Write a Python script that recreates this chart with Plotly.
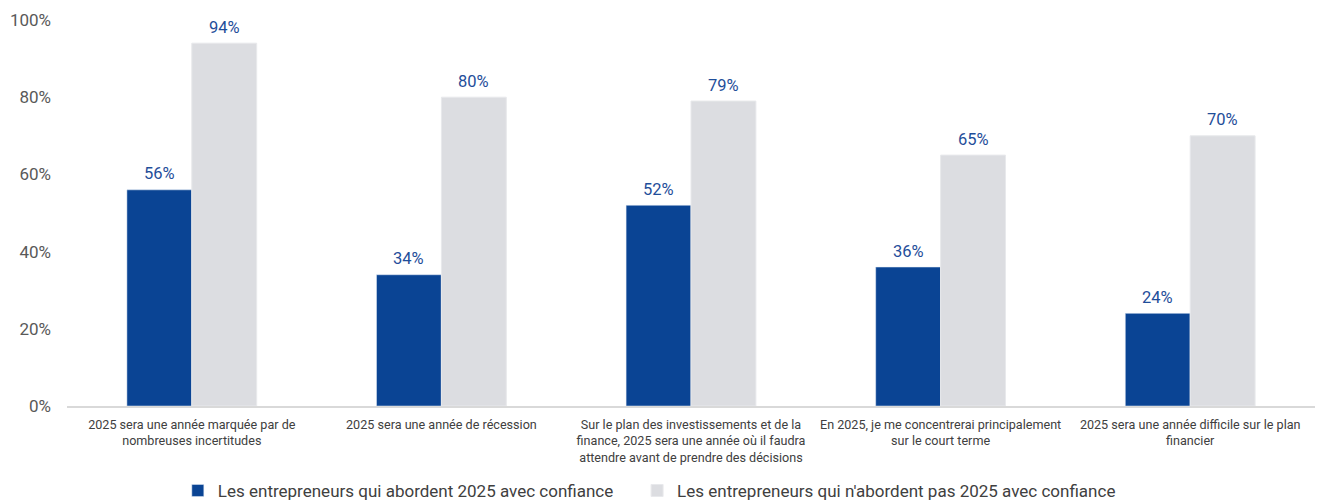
import plotly.graph_objects as go

categories = [
    "2025 sera une année marquée par de<br>nombreuses incertitudes",
    "2025 sera une année de récession",
    "Sur le plan des investissements et de la<br>finance, 2025 sera une année où il faudra<br>attendre avant de prendre des décisions",
    "En 2025, je me concentrerai principalement<br>sur le court terme",
    "2025 sera une année difficile sur le plan<br>financier",
]
series1_name = "Les entrepreneurs qui abordent 2025 avec confiance"
series2_name = "Les entrepreneurs qui n'abordent pas 2025 avec confiance"
series1 = [56, 34, 52, 36, 24]
series2 = [94, 80, 79, 65, 70]
yticks = [0, 20, 40, 60, 80, 100]

FONT = "Roboto, sans-serif"
LABEL_COLOR = "#1F4E9A"

fig = go.Figure()
fig.add_trace(go.Bar(
    x=categories, y=series1, name=series1_name,
    marker=dict(color="#0A4494"), legend="legend",
))
fig.add_trace(go.Bar(
    x=categories, y=series2, name=series2_name,
    marker=dict(color="#DCDDE1", line=dict(color="#E8E9EC", width=1)),
    legend="legend2",
))

for vals, shift in ((series1, -32.5), (series2, 32.5)):
    for c, v in zip(categories, vals):
        fig.add_annotation(
            x=c, y=v, xref="x", yref="y", text=f"{v}%", showarrow=False,
            xshift=shift, yshift=16, font=dict(size=16.5, color=LABEL_COLOR, family=FONT),
        )

legend_common = dict(orientation="h", xanchor="left", y=-0.22, yanchor="middle",
                     font=dict(size=17, color="#404040"), itemwidth=30)
fig.update_layout(
    width=1317, height=501,
    margin=dict(l=67, r=2, t=20, b=95, autoexpand=False),
    paper_bgcolor="white", plot_bgcolor="white",
    barmode="group", bargap=0.48, bargroupgap=0,
    font=dict(family=FONT, color="#404040"),
    showlegend=True,
    legend=dict(x=0.0888, **legend_common),
    legend2=dict(x=0.4568, **legend_common),
)
fig.update_xaxes(
    showline=True, linecolor="#D9D9D9", linewidth=1.5,
    tickfont=dict(size=12.6, color="#404040", family=FONT),
    ticks="", showgrid=False, automargin=False, ticklabelstandoff=6,
)
fig.update_yaxes(
    range=[0, 100], tickvals=yticks, ticktext=[f"{v}%" for v in yticks],
    showgrid=False, zeroline=False, showline=False,
    tickfont=dict(size=17, color="#595959", family=FONT),
    ticklabelstandoff=15, automargin=False,
)
fig.write_html("out.html", config={"displayModeBar": False},
               post_script="document.body.style.margin='0';")
